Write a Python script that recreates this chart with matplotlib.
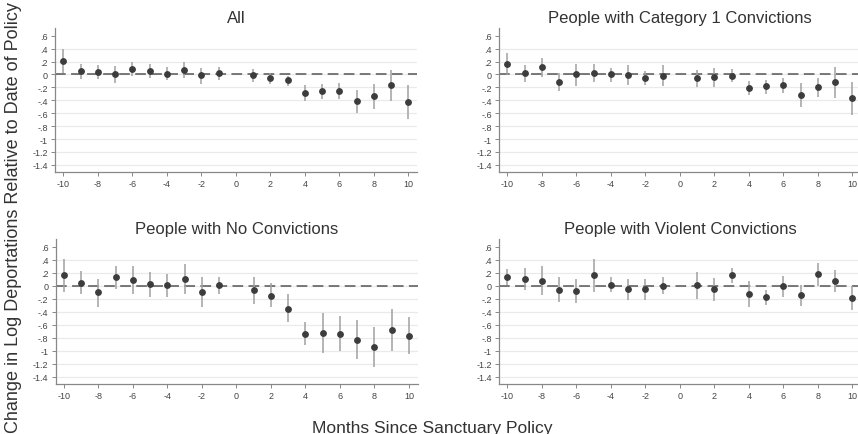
import numpy as np
import matplotlib
matplotlib.use('Agg')
import matplotlib.pyplot as plt

plt.rcParams['font.family'] = ['Liberation Sans', 'DejaVu Sans']
plt.rcParams['axes.unicode_minus'] = False

months = [-10, -9, -8, -7, -6, -5, -4, -3, -2, -1, 1, 2, 3, 4, 5, 6, 7, 8, 9, 10]

# All
all_est = [0.21, 0.05, 0.04, 0.00, 0.08, 0.06, 0.01, 0.07, -0.01, 0.02,
           -0.01, -0.05, -0.09, -0.29, -0.26, -0.26, -0.41, -0.34, -0.16, -0.42]
all_hi = [0.39, 0.16, 0.15, 0.13, 0.20, 0.16, 0.11, 0.20, 0.10, 0.11,
          0.08, 0.02, -0.02, -0.16, -0.14, -0.13, -0.24, -0.15, 0.07, -0.16]
all_lo = [0.02, -0.07, -0.07, -0.13, -0.03, -0.05, -0.09, -0.05, -0.14, -0.08,
          -0.11, -0.14, -0.18, -0.41, -0.38, -0.38, -0.60, -0.53, -0.41, -0.69]

# Category 1 convictions
cat1_est = [0.16, 0.02, 0.11, -0.11, 0.00, 0.03, 0.00, -0.01, -0.05, -0.02,
            -0.06, -0.04, -0.02, -0.21, -0.18, -0.17, -0.31, -0.20, -0.12, -0.36]
cat1_hi = [0.33, 0.15, 0.26, 0.02, 0.16, 0.16, 0.10, 0.14, 0.05, 0.14,
           0.07, 0.10, 0.08, -0.10, -0.08, -0.06, -0.13, -0.05, 0.11, -0.11]
cat1_lo = [-0.01, -0.11, -0.04, -0.26, -0.18, -0.12, -0.11, -0.16, -0.16, -0.18,
           -0.20, -0.20, -0.11, -0.32, -0.30, -0.29, -0.50, -0.35, -0.36, -0.62]

# No convictions
none_est = [0.16, 0.05, -0.10, 0.13, 0.09, 0.03, 0.01, 0.11, -0.10, 0.01,
            -0.07, -0.15, -0.35, -0.74, -0.72, -0.74, -0.83, -0.94, -0.68, -0.77]
none_hi = [0.41, 0.23, 0.10, 0.31, 0.31, 0.22, 0.18, 0.33, 0.13, 0.14,
           0.14, 0.04, -0.12, -0.56, -0.42, -0.47, -0.53, -0.64, -0.35, -0.48]
none_lo = [-0.10, -0.13, -0.33, -0.05, -0.12, -0.17, -0.17, -0.12, -0.33, -0.12,
           -0.28, -0.33, -0.56, -0.91, -1.03, -1.00, -1.13, -1.25, -1.00, -1.05]

# Violent convictions
viol_est = [0.14, 0.11, 0.08, -0.06, -0.08, 0.16, 0.02, -0.05, -0.05, 0.00,
            0.01, -0.05, 0.17, -0.12, -0.17, 0.00, -0.14, 0.18, 0.08, -0.18]
viol_hi = [0.26, 0.27, 0.30, 0.13, 0.10, 0.42, 0.13, 0.10, 0.10, 0.13,
           0.22, 0.12, 0.28, 0.07, -0.06, 0.15, 0.02, 0.35, 0.24, 0.00]
viol_lo = [0.01, -0.06, -0.14, -0.25, -0.27, -0.10, -0.10, -0.22, -0.22, -0.12,
           -0.20, -0.23, 0.04, -0.32, -0.29, -0.17, -0.31, 0.00, -0.09, -0.37]

titles = ['All', 'People with Category 1 Convictions',
          'People with No Convictions', 'People with Violent Convictions']
panels = [(all_est, all_lo, all_hi), (cat1_est, cat1_lo, cat1_hi),
          (none_est, none_lo, none_hi), (viol_est, viol_lo, viol_hi)]

yticks = [0.6, 0.4, 0.2, 0, -0.2, -0.4, -0.6, -0.8, -1, -1.2, -1.4]
ytick_labels = ['.6', '.4', '.2', '0', '-.2', '-.4', '-.6', '-.8', '-1', '-1.2', '-1.4']
xticks = [-10, -8, -6, -4, -2, 0, 2, 4, 6, 8, 10]

W, H = 858, 435
fig = plt.figure(figsize=(W / 100, H / 100), dpi=100)

# axes boxes in pixels: left, top, width, height
boxes = [(55, 29, 362, 144), (499, 29, 362, 144),
         (55.5, 240, 362, 145), (499, 240, 362, 145)]

for (est, lo, hi), title, (l, t, w, h) in zip(panels, titles, boxes):
    ax = fig.add_axes([l / W, 1 - (t + h) / H, w / W, h / H])
    for yv in yticks[1:]:
        ax.axhline(yv, color='#eaeaea', lw=0.9, zorder=0)
    ax.axhline(0, color='#555555', lw=1.1, ls=(0, (7, 3.5)), zorder=1)
    ax.vlines(months, lo, hi, color='#a0a0a0', lw=1.1, zorder=2)
    ax.plot(months, est, 'o', color='#3c3c3c', ms=3.9, zorder=3)
    ax.set_xlim(-10.48, 10.5)
    ax.set_ylim(-1.51, 0.72)
    ax.set_yticks(yticks)
    ax.set_yticklabels(ytick_labels)
    ax.set_xticks(xticks)
    ax.tick_params(labelsize=6.5, colors='#444444', length=3, width=0.7, pad=2)
    ax.tick_params(axis='both', color='#888888')
    for s in ['top', 'right']:
        ax.spines[s].set_visible(False)
    for s in ['left', 'bottom']:
        ax.spines[s].set_color('#888888')
        ax.spines[s].set_linewidth(0.9)
    ax.set_title(title, fontsize=12, color='#333333', pad=4)

fig.text(14 / W, 1 - 218 / H, 'Change in Log Deportations Relative to Date of Policy',
         rotation=90, ha='center', va='center', fontsize=13, color='#333333')
fig.text(432 / W, 1 - 429 / H, 'Months Since Sanctuary Policy',
         ha='center', va='center', fontsize=12.5, color='#333333')

fig.savefig('out.png', dpi=100)
